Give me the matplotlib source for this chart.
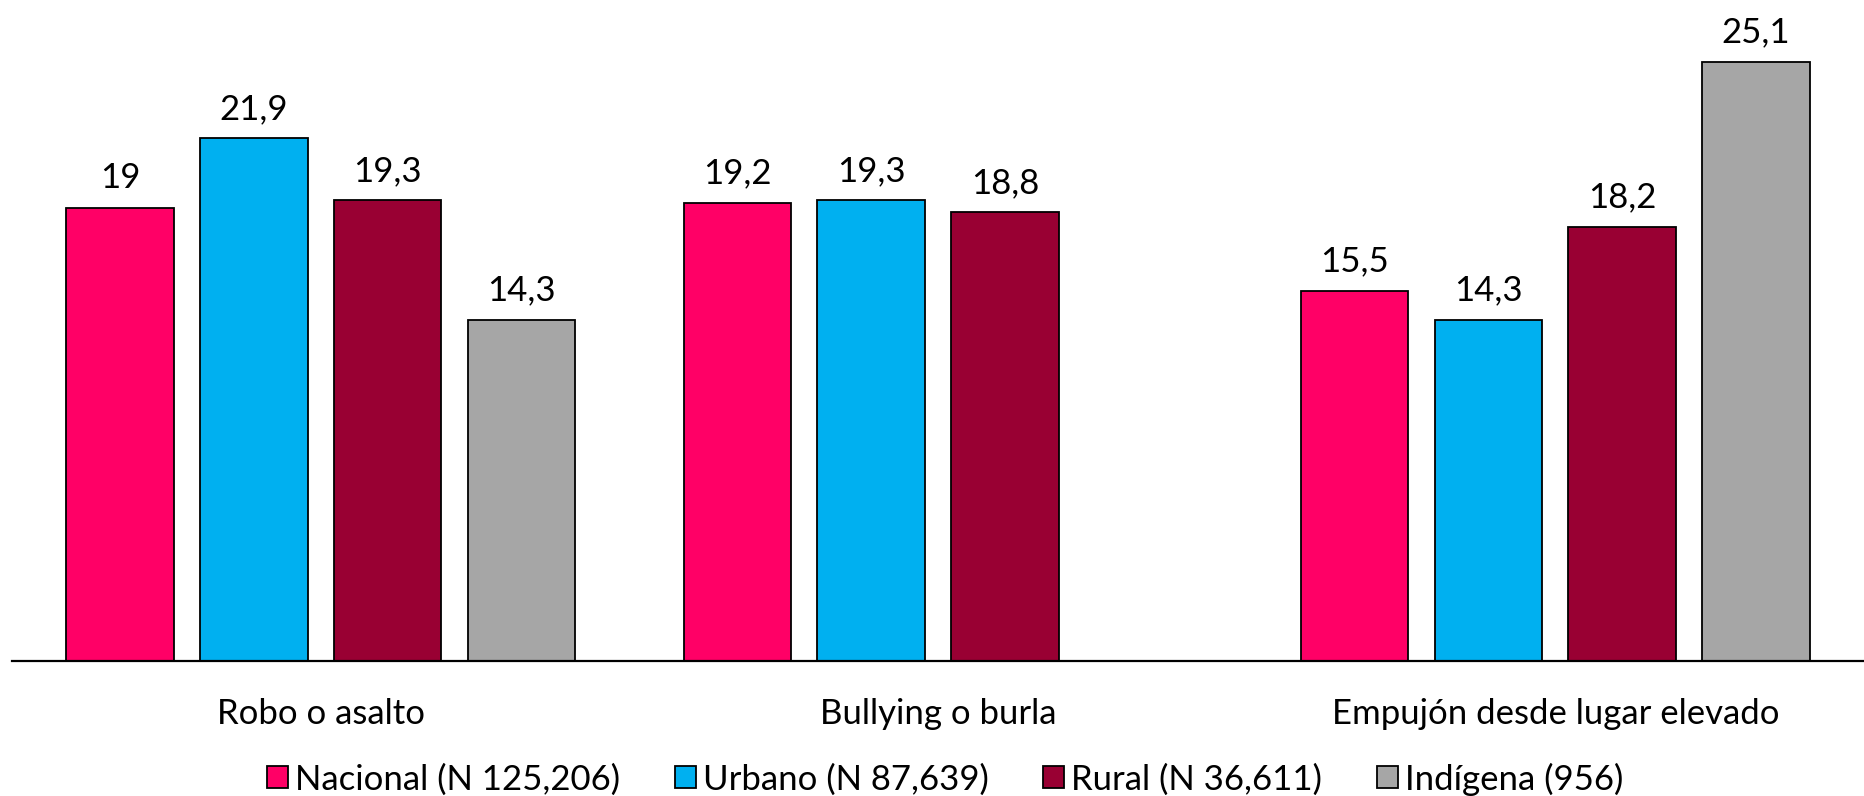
import numpy as np
import matplotlib
matplotlib.use("Agg")
import matplotlib.pyplot as plt

plt.rcParams['font.family'] = ['Lato', 'DejaVu Sans']

categories = ['Robo o asalto', 'Bullying o burla', 'Empujón desde lugar elevado']
series_names = ['Nacional (N 125,206)', 'Urbano (N 87,639)', 'Rural (N 36,611)', 'Indígena (956)']
nacional = [19.0, 19.2, 15.5]
urbano = [21.9, 19.3, 14.3]
rural = [19.3, 18.8, 18.2]
indigena = [14.3, np.nan, 25.1]
colors = ['#FF0066', '#00B0F0', '#990033', '#A6A6A6']

series = [nacional, urbano, rural, indigena]

fig = plt.figure(figsize=(18.64, 7.96), dpi=100)
ax = fig.add_axes([12 / 1864, 135 / 796, 1 - 12 / 1864, 661 / 796])

x = np.arange(len(categories))
slot = 0.2166
width = 0.174
fs = 25

handles = []
for i, (vals, name, col) in enumerate(zip(series, series_names, colors)):
    pos = x + (i - 1.5) * slot
    vals = np.array(vals, dtype=float)
    ok = ~np.isnan(vals)
    bars = ax.bar(pos[ok], vals[ok], width=width, color=col, edgecolor='black',
                  linewidth=1.3, label=name, zorder=3)
    handles.append(bars)
    for p, v in zip(pos[ok], vals[ok]):
        txt = f"{v:g}".replace('.', ',')
        ax.annotate(txt, (p, v), xytext=(0, 14), textcoords='offset points',
                    ha='center', va='baseline', fontsize=fs, color='black')

ax.set_xlim(-0.5, 2.5)
ax.set_ylim(0, 27.7)
ax.set_xticks(x)
ax.set_xticklabels(categories, fontsize=fs)
ax.tick_params(axis='x', length=0, pad=27)
ax.set_yticks([])
for s in ['top', 'right', 'left']:
    ax.spines[s].set_visible(False)
ax.spines['bottom'].set_linewidth(1.6)
ax.spines['bottom'].set_color('black')
ax.spines['bottom'].set_zorder(4)

fig.legend(handles=handles, labels=series_names, loc='center',
           bbox_to_anchor=(0.507, 1 - 779 / 796), ncol=4, frameon=False,
           fontsize=fs, handlelength=0.6, handleheight=0.6,
           handletextpad=0.2, columnspacing=1.58, borderaxespad=0)

fig.savefig('out.png', dpi=100)
